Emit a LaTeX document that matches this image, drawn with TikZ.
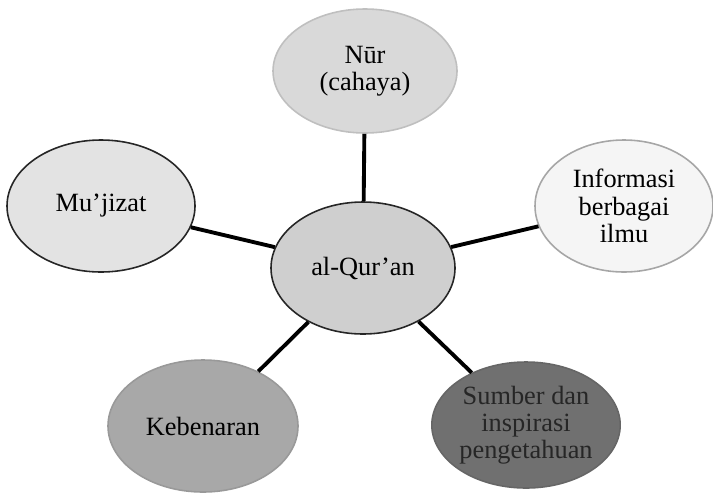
\documentclass[tikz,border=0pt]{standalone}
\usepackage{fontspec}
\setmainfont{Liberation Serif}
\usetikzlibrary{shapes.geometric}

\begin{document}
\begin{tikzpicture}[scale=0.2]
	\tikzstyle{every node}+=[inner sep=0pt, align=center, font=\fontsize{15}{15.5}\selectfont]
	\tikzstyle{bubble}=[ellipse, draw, line width=0.9pt]
	\tikzstyle{spoke}=[black, line width=2.2pt]
	\useasboundingbox (0,0) rectangle (71.3,-49.4);
	\node [bubble, fill=black!15, draw=black!25, minimum width=3.68cm, minimum height=2.48cm] (nur) at (36.5,-7.1) {Nūr\\(cahaya)};
	\node [bubble, fill=black!11, draw=black!85, minimum width=3.76cm, minimum height=2.64cm] (mujizat) at (10.1,-20.6) {Mu'jizat};
	\node [bubble, fill=black!19, draw=black!85, minimum width=3.68cm, minimum height=2.64cm] (quran) at (36.3,-26.8) {al-Qur'an};
	\node [bubble, fill=black!4, draw=black!35, minimum width=3.56cm, minimum height=2.64cm] (informasi) at (62.4,-20.6) {Informasi\\berbagai\\ilmu};
	\node [bubble, fill=black!34, draw=black!40, minimum width=3.8cm, minimum height=2.64cm] (kebenaran) at (20.3,-42.6) {Kebenaran};
	\node [bubble, fill=black!56, draw=black!60, minimum width=3.68cm, minimum height=2.52cm, text=black!85] (sumber) at (52.6,-42.5) {Sumber dan\\inspirasi\\pengetahuan};
	\draw [spoke] (nur) -- (quran);
	\draw [spoke] (mujizat) -- (quran);
	\draw [spoke] (informasi) -- (quran);
	\draw [spoke] (kebenaran) -- (quran);
	\draw [spoke] (sumber) -- (quran);
\end{tikzpicture}
\end{document}
